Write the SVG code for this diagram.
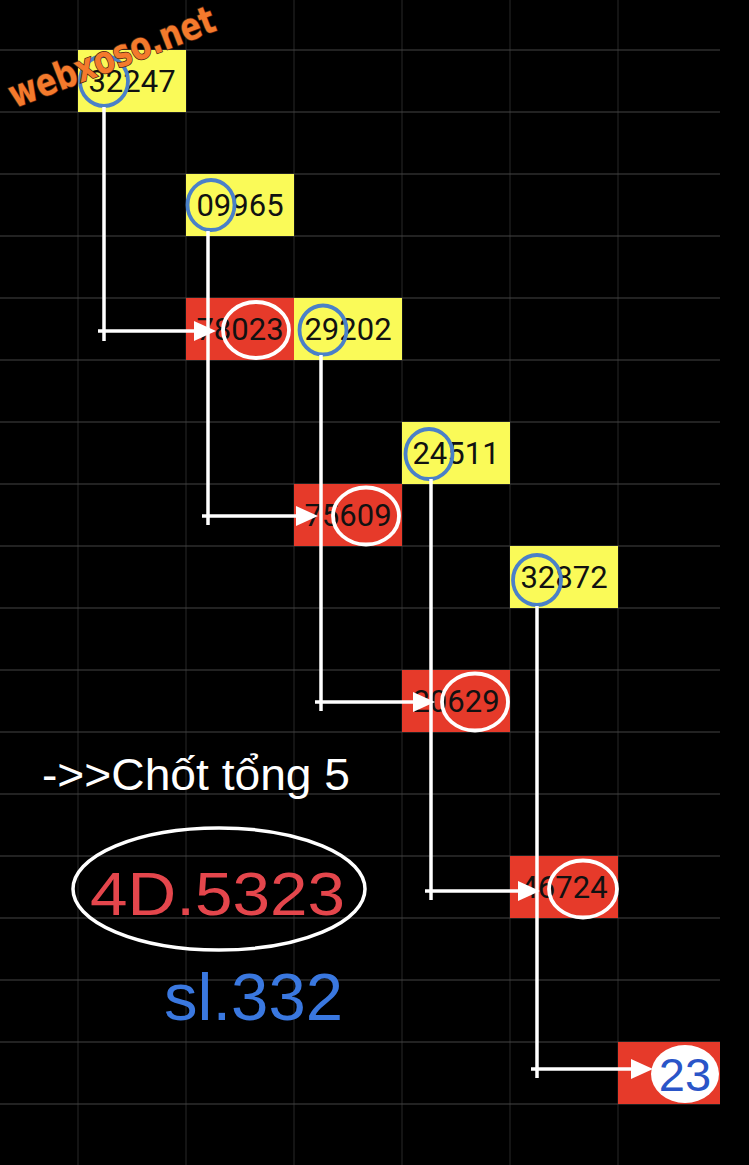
<svg xmlns="http://www.w3.org/2000/svg" width="749" height="1165" viewBox="0 0 749 1165">
<style>
.hl{stroke:#444444;stroke-width:1.2}
.vl{stroke:#222222;stroke-width:1.2}
.y{fill:#fafa58}
.r{fill:#e63a2a}
.t{font-family:Roboto,"Liberation Sans",sans-serif;font-size:31px;fill:#111;text-anchor:middle}
.bc{fill:none;stroke:#4a80c8;stroke-width:3.8}
.wc{fill:none;stroke:#ffffff;stroke-width:3.8}
.cn{fill:none;stroke:#ffffff;stroke-width:3.5}
</style>
<defs>
<marker id="ah" viewBox="0 0 22 20" refX="15" refY="10" markerWidth="22" markerHeight="20" markerUnits="userSpaceOnUse" orient="auto">
<path d="M0,0 L22,10 L0,20 z" fill="#ffffff"/>
</marker>
</defs>
<rect x="0" y="0" width="749" height="1165" fill="#000000"/>
<g id="grid">
<line class="vl" x1="78" y1="0" x2="78" y2="1165"/>
<line class="vl" x1="186" y1="0" x2="186" y2="1165"/>
<line class="vl" x1="294" y1="0" x2="294" y2="1165"/>
<line class="vl" x1="402" y1="0" x2="402" y2="1165"/>
<line class="vl" x1="510" y1="0" x2="510" y2="1165"/>
<line class="vl" x1="618" y1="0" x2="618" y2="1165"/>
<line class="hl" x1="0" y1="50" x2="720" y2="50"/>
<line class="hl" x1="0" y1="112" x2="720" y2="112"/>
<line class="hl" x1="0" y1="174" x2="720" y2="174"/>
<line class="hl" x1="0" y1="236" x2="720" y2="236"/>
<line class="hl" x1="0" y1="298" x2="720" y2="298"/>
<line class="hl" x1="0" y1="360" x2="720" y2="360"/>
<line class="hl" x1="0" y1="422" x2="720" y2="422"/>
<line class="hl" x1="0" y1="484" x2="720" y2="484"/>
<line class="hl" x1="0" y1="546" x2="720" y2="546"/>
<line class="hl" x1="0" y1="608" x2="720" y2="608"/>
<line class="hl" x1="0" y1="670" x2="720" y2="670"/>
<line class="hl" x1="0" y1="732" x2="720" y2="732"/>
<line class="hl" x1="0" y1="794" x2="720" y2="794"/>
<line class="hl" x1="0" y1="856" x2="720" y2="856"/>
<line class="hl" x1="0" y1="918" x2="720" y2="918"/>
<line class="hl" x1="0" y1="980" x2="720" y2="980"/>
<line class="hl" x1="0" y1="1042" x2="720" y2="1042"/>
<line class="hl" x1="0" y1="1104" x2="720" y2="1104"/>
</g>
<g id="n32247"><rect class="y" x="78" y="50" width="108" height="62"/><text class="t" x="132" y="92">32247</text><ellipse class="bc" cx="104" cy="81" rx="24" ry="25"/></g>
<g id="n09965"><rect class="y" x="186" y="174" width="108" height="62"/><text class="t" x="240" y="216">09965</text><ellipse class="bc" cx="211" cy="205" rx="23.5" ry="25"/></g>
<g id="n78023"><rect class="r" x="186" y="298" width="108" height="62"/><text class="t" x="240" y="340">78023</text><ellipse class="wc" cx="256" cy="330" rx="33" ry="28"/></g>
<g id="n29202"><rect class="y" x="294" y="298" width="108" height="62"/><text class="t" x="348" y="340">29202</text><ellipse class="bc" cx="323" cy="330" rx="23.5" ry="24.5"/></g>
<g id="n24511"><rect class="y" x="402" y="422" width="108" height="62"/><text class="t" x="456" y="464">24511</text><ellipse class="bc" cx="429" cy="454" rx="23.5" ry="25"/></g>
<g id="n75609"><rect class="r" x="294" y="484" width="108" height="62"/><text class="t" x="348" y="526">75609</text><ellipse class="wc" cx="366" cy="516" rx="33" ry="28.5"/></g>
<g id="n32872"><rect class="y" x="510" y="546" width="108" height="62"/><text class="t" x="564" y="588">32872</text><ellipse class="bc" cx="537" cy="580" rx="24" ry="25"/></g>
<g id="n20629"><rect class="r" x="402" y="670" width="108" height="62"/><text class="t" x="456" y="712">20629</text><ellipse class="wc" cx="475" cy="702" rx="33" ry="28.5"/></g>
<g id="n46724"><rect class="r" x="510" y="856" width="108" height="62"/><text class="t" x="564" y="898">46724</text><ellipse class="wc" cx="583" cy="889" rx="34" ry="28.5"/></g>
<g id="n23"><rect class="r" x="618" y="1042" width="102" height="62"/><ellipse cx="685" cy="1074" rx="34" ry="29" fill="#ffffff"/><text x="685" y="1091" font-family="'Liberation Sans',Arial,sans-serif" font-size="47" fill="#2a55c8" text-anchor="middle">23</text></g>
<g id="connectors">
<path class="cn" d="M104,107 V341"/><path class="cn" d="M98,331 H209" marker-end="url(#ah)"/>
<path class="cn" d="M208,231 V525"/><path class="cn" d="M202,516 H311" marker-end="url(#ah)"/>
<path class="cn" d="M321,355 V711"/><path class="cn" d="M315,702 H428" marker-end="url(#ah)"/>
<path class="cn" d="M431,479 V900"/><path class="cn" d="M425,891 H533" marker-end="url(#ah)"/>
<path class="cn" d="M537,606 V1078"/><path class="cn" d="M531,1069 H646" marker-end="url(#ah)"/>
</g>
<g id="notes">
<text x="42" y="790" font-family="'Liberation Sans',Arial,sans-serif" font-size="45" fill="#ffffff" textLength="308" lengthAdjust="spacingAndGlyphs">-&gt;&gt;Chốt tổng 5</text>
<ellipse cx="219" cy="889" rx="146" ry="61" fill="none" stroke="#ffffff" stroke-width="3.5"/>
<text x="90" y="915" font-family="'Liberation Sans',Arial,sans-serif" font-size="61" fill="#e4464c" textLength="255" lengthAdjust="spacingAndGlyphs">4D.5323</text>
<text x="164" y="1020" font-family="'Liberation Sans',Arial,sans-serif" font-size="66" fill="#3a78e0" textLength="179" lengthAdjust="spacingAndGlyphs">sl.332</text>
</g>
<g id="watermark">
<text x="112" y="70" transform="rotate(-21 112 58)" font-family="'DejaVu Sans',sans-serif" font-weight="bold" font-size="38" fill="#f47a2c" stroke="#4a2410" stroke-width="1.6" paint-order="stroke" text-anchor="middle" textLength="218" lengthAdjust="spacingAndGlyphs">webxoso.net</text>
</g>
</svg>
